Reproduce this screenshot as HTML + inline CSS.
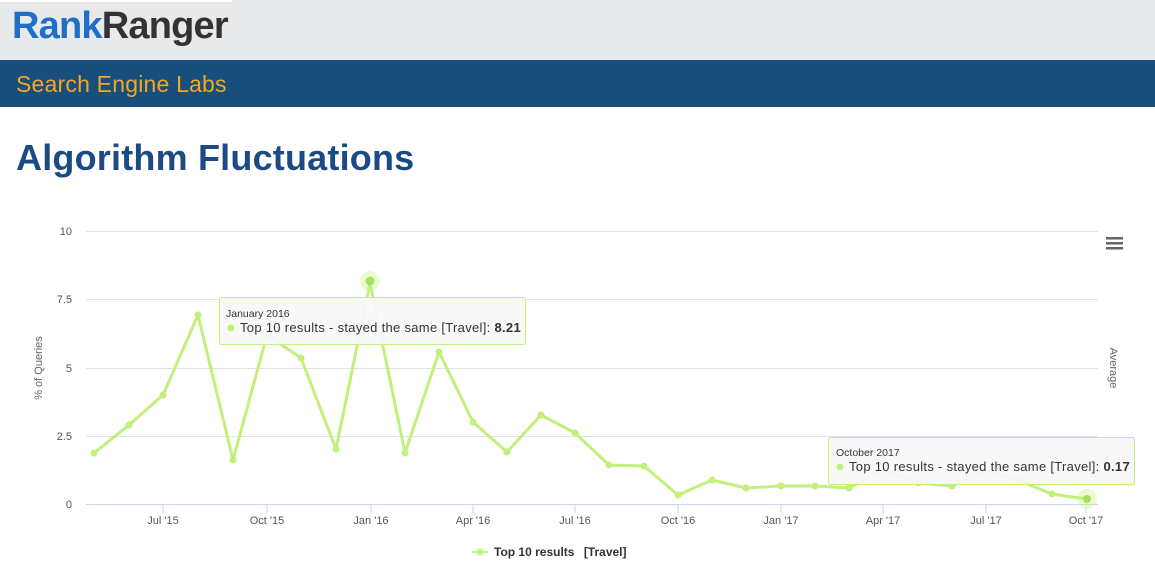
<!DOCTYPE html>
<html><head><meta charset="utf-8"><style>
*{margin:0;padding:0;box-sizing:border-box}
body{width:1155px;height:575px;background:#fff;font-family:"Liberation Sans",sans-serif;position:relative;overflow:hidden}
.top{position:absolute;left:0;top:0;width:1155px;height:60px;background:#e8e9eb}
.topw{position:absolute;left:0;top:0;width:232px;height:2px;background:#fff}
.logo{position:absolute;left:12px;top:5px;font-size:38px;font-weight:bold;letter-spacing:-0.8px}
.bar{position:absolute;left:0;top:60px;width:1155px;height:47px;background:#184e7b}
.bar span{position:absolute;left:16px;top:11px;font-size:23px;color:#f5a623;letter-spacing:0.2px}
h1{position:absolute;left:16px;top:137px;font-size:36px;color:#1b4a84;font-weight:bold;letter-spacing:0.2px}
</style></head><body>
<div class="top"></div><div class="topw"></div>
<div class="logo"><span style="color:#1f6ec8">Rank</span><span style="color:#333">Ranger</span></div>
<div class="bar"><span>Search Engine Labs</span></div>
<h1>Algorithm Fluctuations</h1>
<svg width="1155" height="575" style="position:absolute;left:0;top:0" font-family="Liberation Sans, sans-serif">
<g stroke="#e2e2e2" stroke-width="1">
<line x1="86" x2="1098" y1="231.5" y2="231.5"/><line x1="86" x2="1098" y1="299.5" y2="299.5"/>
<line x1="86" x2="1098" y1="368.5" y2="368.5"/><line x1="86" x2="1098" y1="436.5" y2="436.5"/>
</g>
<line x1="86" x2="1098" y1="504.5" y2="504.5" stroke="#ccd6eb"/>
<g stroke="#ccd6eb"><line x1="163" x2="163" y1="504" y2="513"/><line x1="267" x2="267" y1="504" y2="513"/><line x1="371" x2="371" y1="504" y2="513"/><line x1="473" x2="473" y1="504" y2="513"/><line x1="575" x2="575" y1="504" y2="513"/><line x1="678" x2="678" y1="504" y2="513"/><line x1="781" x2="781" y1="504" y2="513"/><line x1="883" x2="883" y1="504" y2="513"/><line x1="986" x2="986" y1="504" y2="513"/><line x1="1086" x2="1086" y1="504" y2="513"/></g>
<g font-size="11" fill="#555" text-anchor="end"><text x="72" y="235">10</text><text x="72" y="303">7.5</text><text x="72" y="372">5</text><text x="72" y="440">2.5</text><text x="72" y="508">0</text></g>
<g font-size="11" fill="#555" text-anchor="middle"><text x="163" y="524">Jul '15</text><text x="267" y="524">Oct '15</text><text x="371" y="524">Jan '16</text><text x="473" y="524">Apr '16</text><text x="575" y="524">Jul '16</text><text x="678" y="524">Oct '16</text><text x="781" y="524">Jan '17</text><text x="883" y="524">Apr '17</text><text x="986" y="524">Jul '17</text><text x="1086" y="524">Oct '17</text></g>
<text x="42" y="368" font-size="11" fill="#666" transform="rotate(-90 42 368)" text-anchor="middle">% of Queries</text>
<text x="1110" y="368" font-size="11" fill="#666" transform="rotate(90 1110 368)" text-anchor="middle">Average</text>
<g fill="#666"><rect x="1106" y="237" width="17" height="2.5"/><rect x="1106" y="242" width="17" height="2.5"/><rect x="1106" y="247" width="17" height="2.5"/></g>
<polyline fill="none" stroke="#c2f07c" stroke-width="3" stroke-linejoin="round" points="94,453 129,425 163,395 198,315 233,460 267,335 301,358 336,449 370,283 405,453 439,352 473,422 507,452 541,415 575,433 609,465 644,466 678,495 712,480 746,488 781,486 815,486 849,488 883,470 918,483 952,486 986,470 1020,481 1052,494 1086,499"/>
<g fill="#c2f07c"><circle cx="94" cy="453" r="3.5"/><circle cx="129" cy="425" r="3.5"/><circle cx="163" cy="395" r="3.5"/><circle cx="198" cy="315" r="3.5"/><circle cx="233" cy="460" r="3.5"/><circle cx="267" cy="335" r="3.5"/><circle cx="301" cy="358" r="3.5"/><circle cx="336" cy="449" r="3.5"/><circle cx="405" cy="453" r="3.5"/><circle cx="439" cy="352" r="3.5"/><circle cx="473" cy="422" r="3.5"/><circle cx="507" cy="452" r="3.5"/><circle cx="541" cy="415" r="3.5"/><circle cx="575" cy="433" r="3.5"/><circle cx="609" cy="465" r="3.5"/><circle cx="644" cy="466" r="3.5"/><circle cx="678" cy="495" r="3.5"/><circle cx="712" cy="480" r="3.5"/><circle cx="746" cy="488" r="3.5"/><circle cx="781" cy="486" r="3.5"/><circle cx="815" cy="486" r="3.5"/><circle cx="849" cy="488" r="3.5"/><circle cx="918" cy="483" r="3.5"/><circle cx="952" cy="486" r="3.5"/><circle cx="1020" cy="481" r="3.5"/><circle cx="1052" cy="494" r="3.5"/></g>
<circle cx="370" cy="281" r="10" fill="#c2f07c" opacity="0.35"/><circle cx="370" cy="281" r="4.5" fill="#a8e060"/>
<circle cx="1087" cy="499" r="10" fill="#c2f07c" opacity="0.35"/><circle cx="1087" cy="499" r="4" fill="#a8e060"/>
<g>
<rect x="219.5" y="297.5" width="306" height="47" rx="2" fill="#f7f7f7" fill-opacity="0.93" stroke="#c2f07c"/>
<text x="226" y="317" font-size="10.5" fill="#333">January 2016</text>
<circle cx="231" cy="328" r="3.5" fill="#c2f07c"/>
<text x="240" y="332" font-size="13" fill="#333" letter-spacing="0.3">Top 10 results - stayed the same [Travel]: <tspan font-weight="bold">8.21</tspan></text>
</g>
<g>
<rect x="828.5" y="437.5" width="306" height="47" rx="2" fill="#f7f7f7" fill-opacity="0.93" stroke="#c2f07c"/>
<text x="836" y="456" font-size="10.5" fill="#333">October 2017</text>
<circle cx="840" cy="467" r="3.5" fill="#c2f07c"/>
<text x="849" y="471" font-size="13" fill="#333" letter-spacing="0.3">Top 10 results - stayed the same [Travel]: <tspan font-weight="bold">0.17</tspan></text>
</g>
<line x1="472" x2="488" y1="552" y2="552" stroke="#c2f07c" stroke-width="2"/><circle cx="480" cy="552" r="3.5" fill="#c2f07c"/>
<text x="494" y="556" font-size="12" font-weight="bold" fill="#333">Top 10 results <tspan dx="6">[Travel]</tspan></text>
</svg>
</body></html>
